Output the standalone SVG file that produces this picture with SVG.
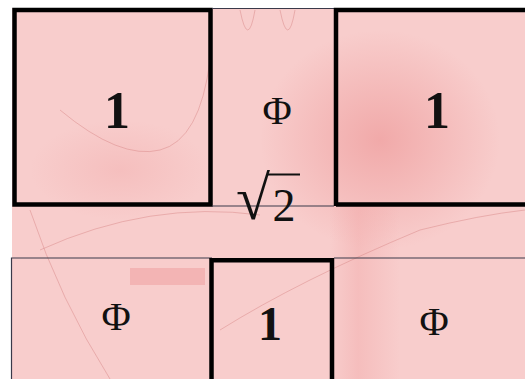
<svg xmlns="http://www.w3.org/2000/svg" width="525" height="379" viewBox="0 0 525 379">
<defs>
<style>
.thick{fill:none;stroke:#000;stroke-width:4.5}
.thin{fill:none;stroke:#3a3a4a;stroke-width:1.2}
.faint{fill:none;stroke:#d98a8a;stroke-width:1;opacity:0.5}
</style>
<radialGradient id="g1" cx="0.5" cy="0.5" r="0.5">
<stop offset="0" stop-color="#ee9a9a" stop-opacity="0.7"/>
<stop offset="1" stop-color="#ee9a9a" stop-opacity="0"/>
</radialGradient>
<linearGradient id="band" x1="0" y1="0" x2="1" y2="0">
<stop offset="0" stop-color="#f0a0a0" stop-opacity="0"/>
<stop offset="0.4" stop-color="#f0a0a0" stop-opacity="0.35"/>
<stop offset="1" stop-color="#f0a0a0" stop-opacity="0"/>
</linearGradient>
</defs>
<rect width="525" height="379" fill="#ffffff"/>
<rect x="12" y="8" width="513" height="371" fill="#f8cdcc"/>
<ellipse cx="380" cy="140" rx="120" ry="110" fill="url(#g1)"/>
<ellipse cx="120" cy="170" rx="90" ry="50" fill="url(#g1)" opacity="0.4"/>
<rect x="330" y="206" width="70" height="173" fill="url(#band)"/>
<rect x="130" y="268" width="75" height="17" fill="#f0a3a3" opacity="0.6"/>
<path class="faint" d="M60 110 Q120 160 160 150 Q200 140 210 60"/>
<path class="faint" d="M240 10 Q248 50 255 10 M280 10 Q288 50 295 10"/>
<path class="faint" d="M30 210 Q60 300 110 379"/>
<path class="faint" d="M220 330 Q300 280 420 230 Q480 215 525 210"/>
<path class="faint" d="M40 250 Q150 200 260 215"/>
<g id="connectors"></g>
<g id="box-top-left">
<rect class="thick" x="14.5" y="10" width="196" height="194.5"/>
<text x="117" y="128" font-family="Liberation Serif, Times New Roman, serif" font-weight="bold" font-size="52" fill="#111" text-anchor="middle">1</text>
</g>
<g id="box-top-middle">
<path class="thin" d="M212 8.5 H334 M212 206 H334"/>
<text x="277" y="124" font-family="Liberation Serif, Times New Roman, serif" font-size="40" fill="#111" text-anchor="middle">Φ</text>
</g>
<g id="box-top-right">
<path class="thick" d="M336 206 V10 H530 M336 204.5 H530"/>
<text x="437" y="128" font-family="Liberation Serif, Times New Roman, serif" font-weight="bold" font-size="52" fill="#111" text-anchor="middle">1</text>
</g>
<g id="strip-sqrt2">
<text x="236" y="219" font-family="Liberation Serif, Times New Roman, serif" font-weight="bold" font-size="62" fill="#111">√</text>
<line x1="268" y1="174.5" x2="300" y2="174.5" stroke="#111" stroke-width="2"/>
<text x="284" y="221" font-family="Liberation Serif, Times New Roman, serif" font-size="46" fill="#111" text-anchor="middle">2</text>
</g>
<g id="box-bottom-left">
<path class="thin" d="M11.5 379 V258 H212"/>
<text x="116" y="330" font-family="Liberation Serif, Times New Roman, serif" font-size="40" fill="#111" text-anchor="middle">Φ</text>
</g>
<g id="box-bottom-middle">
<path class="thick" d="M211.5 380 V260.2 H332 V380"/>
<text x="270" y="340" font-family="Liberation Serif, Times New Roman, serif" font-weight="bold" font-size="48" fill="#111" text-anchor="middle">1</text>
</g>
<g id="box-bottom-right">
<path class="thin" d="M334 258 H525"/>
<text x="434" y="335" font-family="Liberation Serif, Times New Roman, serif" font-size="40" fill="#111" text-anchor="middle">Φ</text>
</g>
</svg>
